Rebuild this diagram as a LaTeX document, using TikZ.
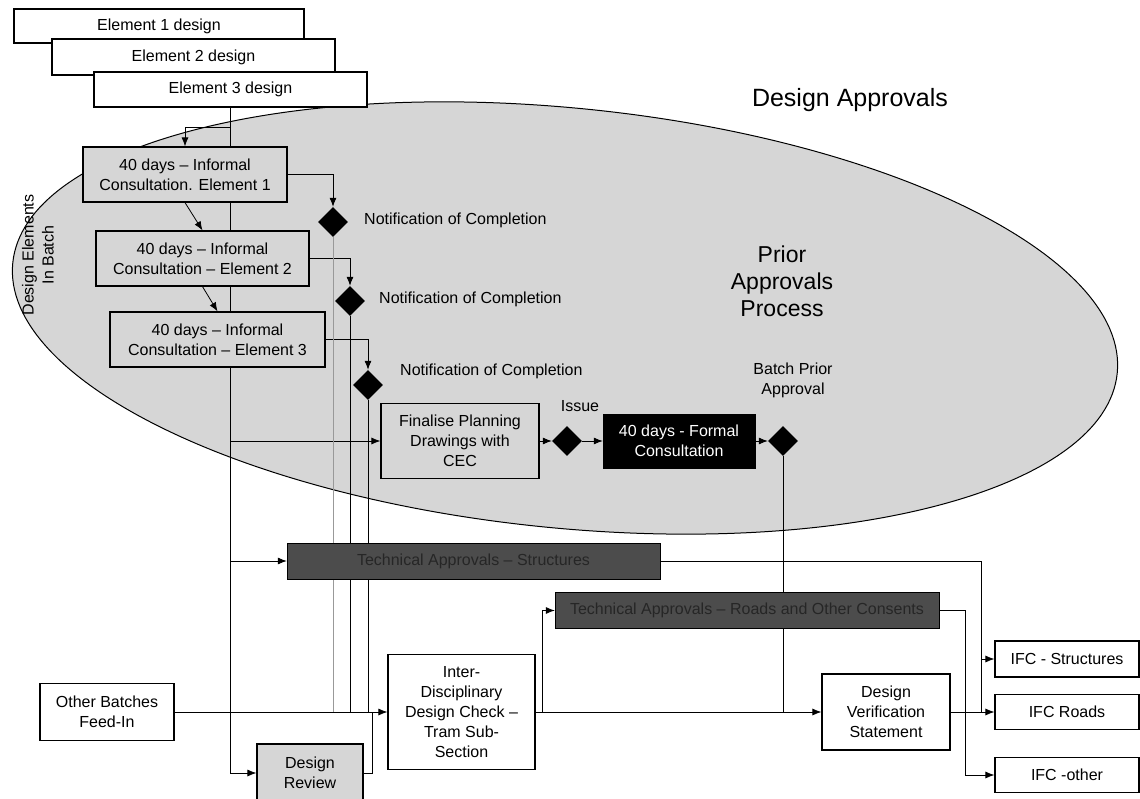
\documentclass[tikz,border=0pt]{standalone}
\usepackage{fontspec}
\setmainfont{Liberation Sans}
\usetikzlibrary{
	arrows.meta,
	shapes,
	backgrounds,
	calc
}

\begin{document}
\begin{tikzpicture}[x=1pt, y=-1pt, >={Latex[length=9pt,width=7pt]},
    every node/.style={font=\fontsize{16}{20}\selectfont, align=center, inner sep=0pt},
    elembox/.style={draw, fill=white, line width=1.2pt},
    dotbox/.style={draw, fill=black!16, line width=1.2pt},
    gate/.style={diamond, fill=black, minimum width=30pt, minimum height=30pt},
    darkbar/.style={draw, fill=black!70, text=black!85, minimum height=36pt},
    link/.style={line width=0.8pt},
    faint/.style={line width=0.8pt, black!40}]
                \useasboundingbox (0,0) rectangle (1140,799);
                % element designs
                \node[elembox, minimum width=290pt, minimum height=34pt] (el1) at (159,26) {Element 1 design};
                \node[elembox, minimum width=283pt, minimum height=36pt] (el2) at (193.5,57) {Element 2 design};
                \node[elembox, minimum width=273pt, minimum height=35pt] (el3) at (230.5,89.5) {Element 3 design};
                % titles
                \node[font=\fontsize{25}{30}\selectfont] (title) at (850,100) {Design Approvals};
                \node[font=\fontsize{23}{27}\selectfont] (prior) at (782,281) {Prior\\Approvals\\Process};
                \node[rotate=90] (batch) at (38,255) {Design Elements\\In Batch};
                % informal consultations
                \node[dotbox, minimum width=204pt, minimum height=55pt] (ic1) at (185,174.5) {40 days – Informal\\Consultation. Element 1};
                \node[dotbox, minimum width=213pt, minimum height=55pt] (ic2) at (202.5,258.5) {40 days – Informal\\Consultation – Element 2};
                \node[dotbox, minimum width=215pt, minimum height=55pt] (ic3) at (217.5,339.5) {40 days – Informal\\Consultation – Element 3};
                \node[gate] (d1) at (333,222) {};
                \node[gate] (d2) at (350,301) {};
                \node[gate] (d3) at (368,385) {};
                \node[anchor=west] (n1) at (364,220) {Notification of Completion};
                \node[anchor=west] (n2) at (379,299) {Notification of Completion};
                \node[anchor=west] (n3) at (400,371) {Notification of Completion};
                % formal route
                \node[dotbox, minimum width=158pt, minimum height=75pt] (fin) at (460,441) {Finalise Planning\\Drawings with\\CEC};
                \node[gate] (d4) at (567,441) {};
                \node (issue) at (580,406) {Issue};
                \node[draw, fill=black, text=white, minimum width=152pt, minimum height=54pt] (formal) at (679,441) {40 days - Formal\\Consultation};
                \node[gate] (d5) at (783,441) {};
                \node (bpa) at (793,380) {Batch Prior\\Approval};
                % lower part
                \node[darkbar, minimum width=373pt] (bar1) at (473.5,561) {Technical Approvals – Structures};
                \node[darkbar, minimum width=384pt] (bar2) at (747,610.5) {Technical Approvals – Roads and Other Consents};
                \node[elembox, minimum width=134pt, minimum height=57pt] (other) at (107,712) {Other Batches\\Feed-In};
                \node[dotbox, minimum width=106pt, minimum height=58pt] (review) at (310,773) {Design\\Review};
                \node[elembox, minimum width=147pt, minimum height=115pt] (idc) at (461.5,712) {Inter-\\Disciplinary\\Design Check –\\Tram Sub-\\Section};
                \node[elembox, minimum width=128pt, minimum height=76pt] (dvs) at (886,712) {Design\\Verification\\Statement};
                \node[elembox, minimum width=144pt, minimum height=36pt] (ifcs) at (1067,659) {IFC - Structures};
                \node[elembox, minimum width=144pt, minimum height=35pt] (ifcr) at (1067,712) {IFC Roads};
                \node[elembox, minimum width=144pt, minimum height=35pt] (ifco) at (1067,775) {IFC -other};
                % junctions
                \coordinate (j1) at (230.5,127);
                \coordinate (jr) at (372,712);
                \coordinate (j2) at (542,712);
                \coordinate (j3) at (981,659);
                \coordinate (j4) at (965,775);
                \begin{scope}[on background layer]
                    \draw[fill=black!16, line width=1pt, rotate around={-5.7:(565,318)}] (565,318) ellipse [x radius=555pt, y radius=210pt];
                    \draw[link,->] (el3.south) |- (review.west);
                    \draw[link,->] (j1) -| (ic1.north);
                    \draw[link,->] (el3.south |- bar1.west) -- (bar1.west);
                    \draw[link,->] (el3.south |- fin.west) -- (fin.west);
                    \draw[link,->] (ic1.south) -- (ic2.north);
                    \draw[link,->] (ic2.south) -- (ic3.north);
                    \draw[link,->] (ic1.east) -| (d1.north);
                    \draw[link,->] (ic2.east) -| (d2.north);
                    \draw[link,->] (ic3.east) -| (d3.north);
                    \draw[faint] (d1.south) -- (d1.south |- other.east);
                    \draw[link] (d2.south) -- (d2.south |- other.east);
                    \draw[link] (d3.south) -- (d3.south |- other.east);
                    \draw[link,->] (fin.east) -- (d4.west);
                    \draw[link,->] (d4.east) -- (formal.west);
                    \draw[link,->] (formal.east) -- (d5.west);
                    \draw[link] (d5.south) -- (d5.south |- dvs.west);
                    \draw[link,->] (other.east) -- (idc.west);
                    \draw[link] (review.east) -| (jr);
                    \draw[link,->] (idc.east) -- (dvs.west);
                    \draw[link,->] (j2) |- (bar2.west);
                    \draw[link,->] (dvs.east) -- (ifcr.west);
                    \draw[link,->] (bar1.east) -| (j3) -- (ifcs.west);
                    \draw[link] (j3) -- (j3 |- ifcr.west);
                    \draw[link,->] (bar2.east) -| (j4) -- (ifco.west);
                \end{scope}
            \end{tikzpicture}
\end{document}
